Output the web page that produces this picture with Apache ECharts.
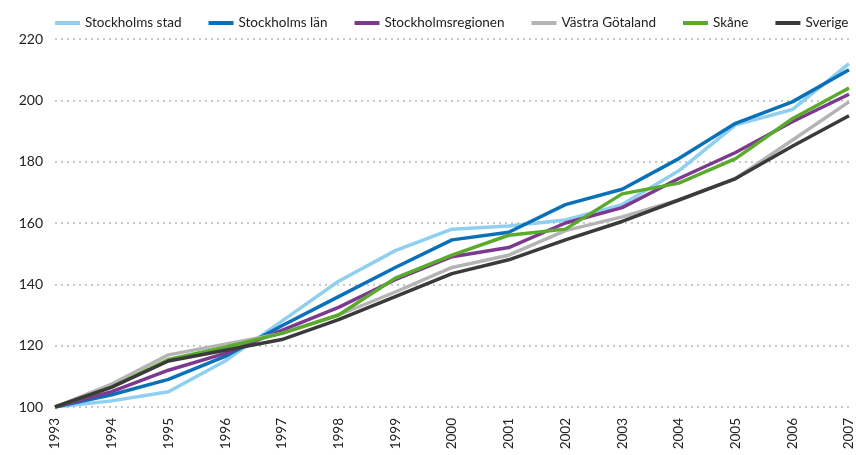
<!DOCTYPE html>
<html>
<head>
    <meta charset="utf-8">
    <script src="https://cdn.jsdelivr.net/npm/echarts@6/dist/echarts.min.js"></script>
</head>
<body style="margin:0">
<div id="main" style="width: 856px; height: 455px"></div>
<script type="text/javascript">
    var years = ['1993', '1994', '1995', '1996', '1997', '1998', '1999', '2000', '2001', '2002', '2003', '2004', '2005', '2006', '2007'];
    var stockholmsStad = [100, 102, 105, 115, 128, 141, 151, 158, 159, 161, 166, 177, 192, 197, 212];
    var stockholmsLan = [100, 104, 109, 116.5, 126.5, 136, 145.5, 154.5, 157, 166, 171, 181, 192.5, 199.5, 210];
    var stockholmsregionen = [100, 105, 112, 117.5, 125, 132.5, 141.5, 149, 152, 160, 165, 174.5, 183, 193, 202];
    var vastraGotaland = [100, 107.5, 117, 120.5, 124, 130, 137.5, 145.5, 149.5, 157.5, 162, 167.5, 174.5, 187, 199.5];
    var skane = [100, 106.5, 115.5, 119.5, 124, 130, 142, 149.5, 156, 158, 169.5, 173, 181, 194, 204];
    var sverige = [100, 106.5, 115, 118.5, 122, 128.5, 136, 143.5, 148, 154.5, 160.5, 167.5, 174.5, 185, 195];

    var names = ['Stockholms stad', 'Stockholms län', 'Stockholmsregionen', 'Västra Götaland', 'Skåne', 'Sverige'];
    var values = [stockholmsStad, stockholmsLan, stockholmsregionen, vastraGotaland, skane, sverige];
    var colors = ['#8fd0f0', '#0a70b8', '#7d3990', '#b4b4b4', '#5aab2c', '#3a3a3a'];

    var series = [];
    for (var i = 0; i < names.length; i++) {
        series.push({
            name: names[i], type: 'line', data: values[i],
            symbol: 'none', lineStyle: {width: 3.5, color: colors[i]},
            itemStyle: {color: colors[i]}
        });
    }

    var myChart = echarts.init(document.getElementById('main'));
    var option = {
        animation: false,
        color: colors,
        textStyle: {fontFamily: 'Lato', color: '#222'},
        legend: {
            top: 11, left: 50, itemWidth: 25, itemHeight: 4, itemGap: 27,
            icon: 'rect',
            textStyle: {fontSize: 13.5, color: '#222', fontFamily: 'Lato'},
            data: names
        },
        grid: {left: 55, right: 6, top: 39, bottom: 48},
        xAxis: {
            type: 'category', data: years, boundaryGap: false,
            axisLine: {show: false}, axisTick: {show: false},
            axisLabel: {rotate: 90, margin: 11, fontSize: 13.5, color: '#222'}
        },
        yAxis: {
            type: 'value', min: 100, max: 220, interval: 20,
            axisLine: {show: false}, axisTick: {show: false},
            axisLabel: {margin: 12, fontSize: 14, color: '#222'},
            splitLine: {lineStyle: {type: [2, 4], width: 2, color: '#c8c8c8'}}
        },
        series: series
    };
    myChart.setOption(option);
</script>
</body>
</html>
